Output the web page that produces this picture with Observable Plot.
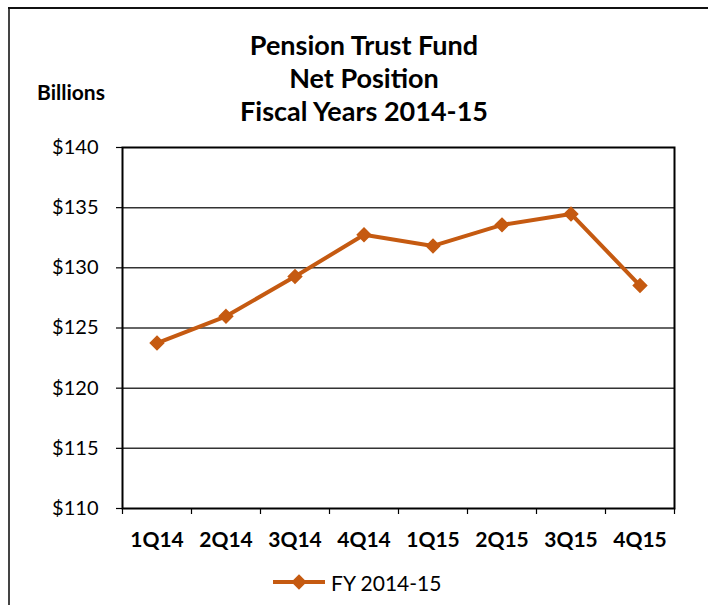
<!DOCTYPE html>
<html>
<head>
<meta charset="utf-8">
<script src="https://cdn.jsdelivr.net/npm/d3@7"></script>
<script src="https://cdn.jsdelivr.net/npm/@observablehq/plot@0.6"></script>
<style>
  html, body { margin: 0; padding: 0; background: #fff; }
  #wrap { position: relative; width: 708px; height: 605px; overflow: hidden; font-family: Lato, "Open Sans", sans-serif; color: #000; }
  .bl { position: absolute; left: 8px; top: 7px; width: 2px; height: 600px; background: #444; }
  .bt { position: absolute; left: 8px; top: 7px; right: 0; height: 2px; background: #111; }
  #title { position: absolute; left: 164px; width: 400px; top: 28px; text-align: center; font-weight: bold; font-size: 27px; line-height: 33px; }
  #ylab { position: absolute; left: 37px; top: 79px; font-weight: bold; font-size: 21px; line-height: 26px; }
  #chart { position: absolute; left: 0; top: 130px; }
  #legend { position: absolute; left: 270px; top: 568px; height: 28px; display: flex; align-items: center; font-size: 21px; }
  #legend svg { margin-right: 5px; }
</style>
</head>
<body>
<div id="wrap">
  <div class="bl"></div>
  <div class="bt"></div>
  <div id="title"></div>
  <div id="ylab"></div>
  <div id="chart"></div>
  <div id="legend"></div>
</div>
<script>
const titleLines = ["Pension Trust Fund", "Net Position", "Fiscal Years 2014-15"];
const yLabel = "Billions";
const seriesName = "FY 2014-15";
const quarters = ["1Q14", "2Q14", "3Q14", "4Q14", "1Q15", "2Q15", "3Q15", "4Q15"];
const values = [123.75, 125.97, 129.28, 132.75, 131.82, 133.57, 134.48, 128.53];
const yTicks = [110, 115, 120, 125, 130, 135, 140];
const color = "#C55A11";

document.getElementById("title").innerHTML = titleLines.join("<br>");
document.getElementById("ylab").textContent = yLabel;

const data = quarters.map((q, i) => ({q, x: i + 0.5, v: values[i]}));
const boundaries = d3.range(quarters.length + 1);
const centers = quarters.map((q, i) => i + 0.5);

const chart = Plot.plot({
  width: 708,
  height: 430,
  marginTop: 17,
  marginBottom: 52,
  marginLeft: 122,
  marginRight: 34,
  style: {fontFamily: "Lato, 'Open Sans', sans-serif", background: "transparent"},
  x: {domain: [0, quarters.length]},
  y: {domain: [110, 140]},
  marks: [
    Plot.ruleY(yTicks.slice(1, -1), {stroke: "#333", strokeWidth: 1.5}),
    Plot.axisY({ticks: yTicks, tickFormat: d => "$" + d, tickSize: 6, tickPadding: 18, fontSize: 20, label: null, stroke: "#000", strokeWidth: 1.2}),
    Plot.axisX({ticks: boundaries, tickFormat: () => "", tickSize: 6, label: null, stroke: "#000", strokeWidth: 1.2}),
    Plot.axisX({ticks: centers, tickFormat: d => quarters[Math.round(d - 0.5)], tickSize: 0, tickPadding: 24, fontSize: 21, fontWeight: "bold", label: null}),
    Plot.frame({stroke: "#000", strokeWidth: 2}),
    Plot.line(data, {x: "x", y: "v", stroke: color, strokeWidth: 4}),
    Plot.dot(data, {x: "x", y: "v", symbol: "diamond2", r: 6, fill: color, stroke: color, strokeWidth: 1.5})
  ]
});
document.getElementById("chart").appendChild(chart);

// legend
const leg = d3.select("#legend");
const ls = leg.append("svg").attr("width", 56).attr("height", 20);
ls.append("line").attr("x1", 3).attr("x2", 55).attr("y1", 10).attr("y2", 10).attr("stroke", color).attr("stroke-width", 4);
ls.append("path").attr("d", d3.symbol(d3.symbolDiamond2, Math.PI * 36)()).attr("transform", "translate(29,10)").attr("fill", color).attr("stroke", color).attr("stroke-width", 1.5);
leg.append("span").text(seriesName);
</script>
</body>
</html>
